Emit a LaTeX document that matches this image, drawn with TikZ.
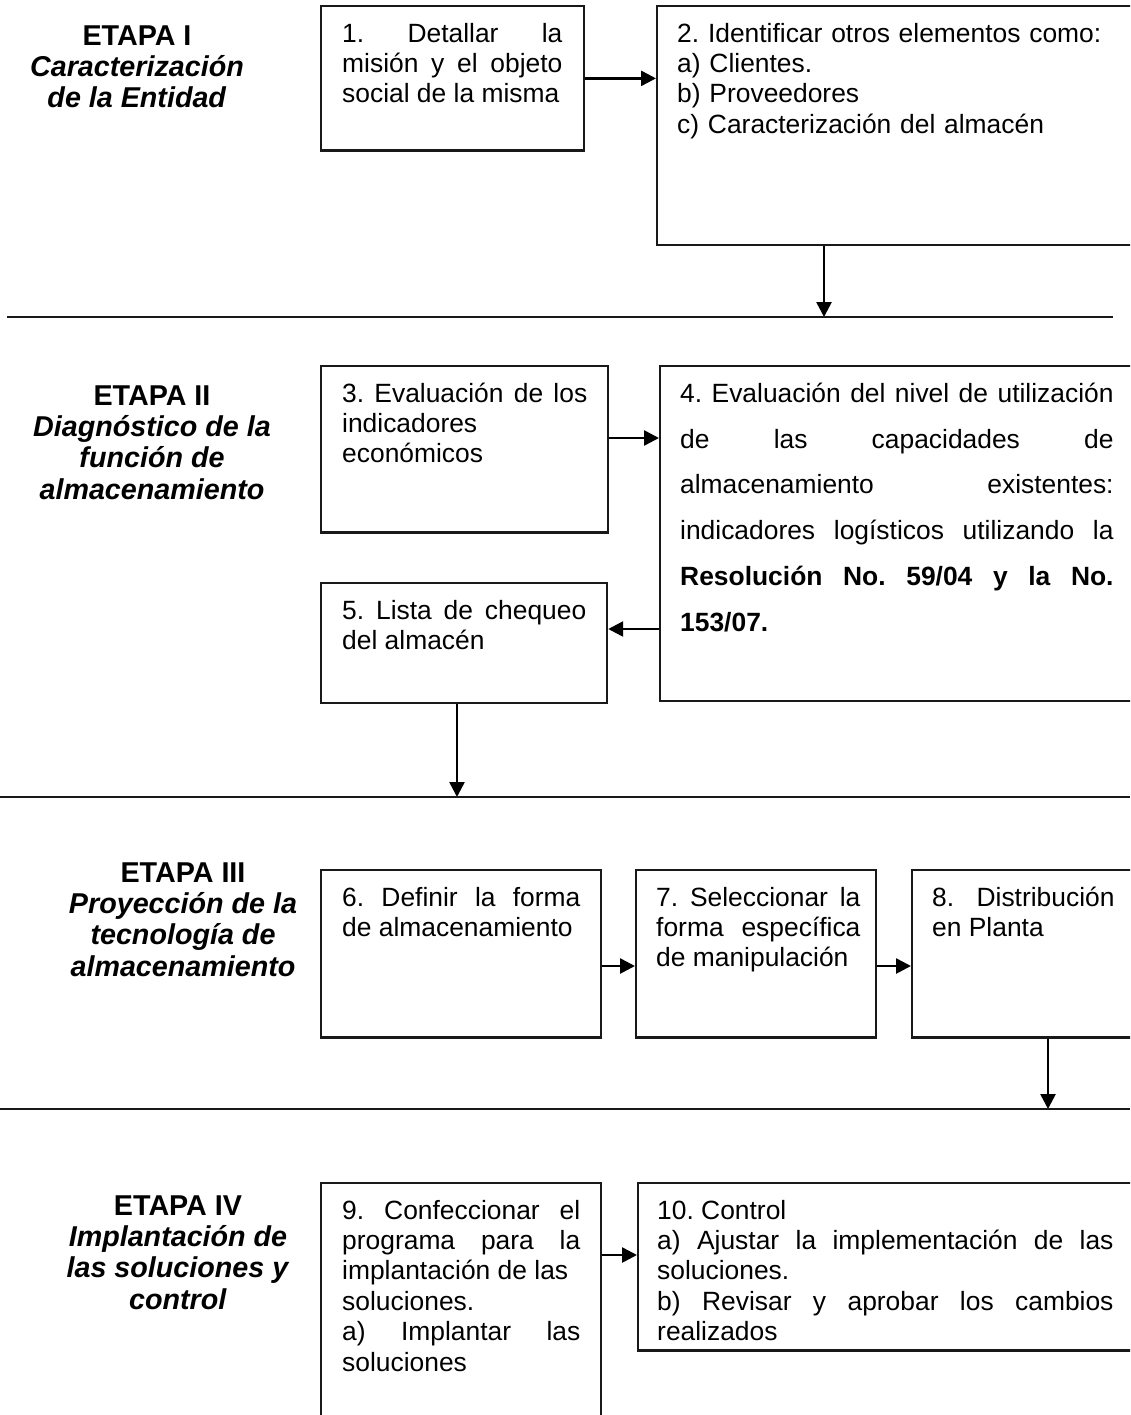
\documentclass[tikz,border=0pt]{standalone}
\usepackage{fontspec}
\setmainfont{Liberation Sans}
\usetikzlibrary{arrows.meta,calc}
\hbadness=10000
\hfuzz=6pt
\hyphenpenalty=10000
\exhyphenpenalty=10000
\frenchspacing
\begin{document}
\begin{tikzpicture}[x=1bp,y=-1bp,
  frame/.style={draw=black!90, line width=2.3bp, anchor=north west, inner sep=0},
  txt/.style={anchor=north west, inner sep=0, text width=#1, align=justify,
    font=\fontsize{26.5}{30.5}\selectfont},
  txtleft/.style={anchor=north west, inner sep=0, text width=#1, align=left,
    font=\fontsize{26.5}{30.5}\selectfont},
  lbl/.style={anchor=north, inner sep=0, align=center,
    font=\fontsize{28.8}{31.5}\selectfont\bfseries},
  arr/.style={-{Triangle[length=15bp,width=15bp]}, line width=2.6bp},
  sep/.style={line width=2.3bp, draw=black!90}]

\clip (0,0) rectangle (1130,1415);
\fill[white] (0,0) rectangle (1130,1415);

% ---------------- Etapa I ----------------
\node[lbl] (e1) at (137,21) {\rule{0pt}{24bp}ETAPA I\\ \textit{Caracterización}\\ \textit{de la Entidad}};

\node[frame, minimum width=264, minimum height=145] (b1) at (320,5) {};
\node[txt=221] (t1) at (342,20) {\rule{0pt}{22bp}1. Detallar la\linebreak misión y el objeto\linebreak social de la misma};

\node[frame, minimum width=480, minimum height=240] (b2) at (656,5) {};
\node[txtleft=440] (t2) at (677,20) {\rule{0pt}{22bp}2. Identificar otros elementos como:\\ a) Clientes.\\ b) Proveedores\\ c) Caracterización del almacén};

\draw[arr] (b1.east) -- (b1.east -| b2.west);

\coordinate (s1a) at (7,317);
\coordinate (s1b) at (1113,317);
\coordinate (d1) at (824,317);
\draw[arr] (b2.south -| d1) -- (d1);
\draw[sep] (s1a) -- (s1b);

% ---------------- Etapa II ----------------
\node[lbl] (e2) at (152,381) {\rule{0pt}{24bp}ETAPA II\\ \textit{Diagnóstico de la}\\ \textit{función de}\\ \textit{almacenamiento}};

\node[frame, minimum width=288, minimum height=167] (b3) at (320,365) {};
\node[txt=246] (t3) at (342,380) {\rule{0pt}{22bp}3. Evaluación de los\linebreak indicadores\\ económicos};

\node[frame, minimum width=477, minimum height=336] (b4) at (659,365) {};
\node[txt=435, font=\fontsize{26.5}{46}\selectfont] (t4) at (680,380) {\rule{0pt}{22bp}4. Evaluación del nivel de utilización\linebreak de las capacidades de\linebreak almacenamiento existentes:\linebreak indicadores logísticos utilizando la\linebreak \textbf{Resolución No. 59/04 y la No.\linebreak 153/07.}};

\node[frame, minimum width=287, minimum height=120] (b5) at (320,582) {};
\node[txt=245] (t5) at (342,597) {\rule{0pt}{22bp}5. Lista de chequeo\linebreak del almacén};

\draw[arr] ($(b3.north east)+(0,73)$) -- ($(b4.north west)+(0,73)$);
\draw[arr] ($(b4.north west)+(0,264)$) -- ($(b5.north east)+(0,47)$);

\coordinate (s2a) at (0,797);
\coordinate (s2b) at (1130,797);
\coordinate (d2) at (457,797);
\draw[arr] (b5.south -| d2) -- (d2);
\draw[sep] (s2a) -- (s2b);

% ---------------- Etapa III ----------------
\node[lbl] (e3) at (183,858) {\rule{0pt}{24bp}ETAPA III\\ \textit{Proyección de la}\\ \textit{tecnología de}\\ \textit{almacenamiento}};

\node[frame, minimum width=281, minimum height=168] (b6) at (320,869) {};
\node[txt=239] (t6) at (342,884) {\rule{0pt}{22bp}6. Definir la forma\linebreak de almacenamiento};

\node[frame, minimum width=241, minimum height=168] (b7) at (635,869) {};
\node[txt=205] (t7) at (656,884) {\rule{0pt}{22bp}7. Seleccionar la\linebreak forma específica\linebreak de manipulación};

\node[frame, minimum width=225, minimum height=168] (b8) at (911,869) {};
\node[txt=183] (t8) at (932,884) {\rule{0pt}{22bp}8. Distribución\linebreak en Planta};

\draw[arr] ($(b6.north east)+(0,97)$) -- ($(b7.north west)+(0,97)$);
\draw[arr] ($(b7.north east)+(0,97)$) -- ($(b8.north west)+(0,97)$);

\coordinate (s3a) at (0,1109);
\coordinate (s3b) at (1130,1109);
\coordinate (d3) at (1048,1109);
\draw[arr] (b8.south -| d3) -- (d3);
\draw[sep] (s3a) -- (s3b);

% ---------------- Etapa IV ----------------
\node[lbl] (e4) at (178,1191) {\rule{0pt}{24bp}ETAPA IV\\ \textit{Implantación de}\\ \textit{las soluciones y}\\ \textit{control}};

\node[frame, minimum width=281, minimum height=260] (b9) at (320,1182) {};
\node[txt=239] (t9) at (342,1197) {\rule{0pt}{22bp}9. Confeccionar el\linebreak programa para la\linebreak implantación de las\\ soluciones.\\ a) Implantar las\linebreak soluciones};

\node[frame, minimum width=499, minimum height=168] (b10) at (637,1182) {};
\node[txt=458] (t10) at (657,1197) {\rule{0pt}{22bp}10. Control\\ a) Ajustar la implementación de las\linebreak soluciones.\\ b) Revisar y aprobar los cambios\linebreak realizados};

\draw[arr] ($(b9.north east)+(0,73)$) -- ($(b10.north west)+(0,73)$);

\end{tikzpicture}
\end{document}
